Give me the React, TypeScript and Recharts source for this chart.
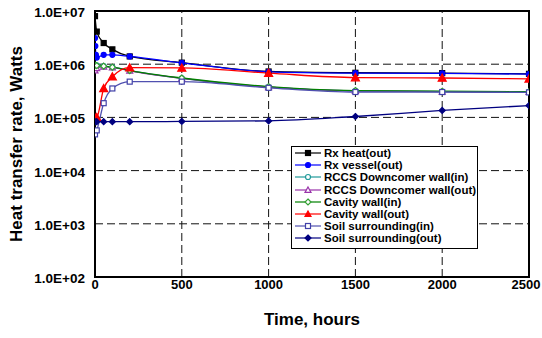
import React from "react";
import {
  LineChart,
  Line,
  XAxis,
  YAxis,
  ReferenceLine,
  ReferenceArea,
} from "recharts";

// time axis (hours)
const mainTimes = [0, 10, 50, 100, 200, 500, 1000, 1500, 2000, 2500];
const vesselTimes = [0, 2, 5, 10, 50, 100, 200, 500, 1000, 1500, 2000, 2500];
const cavityInTimes = [0, 1, 10, 50, 100, 200, 500, 1000, 1500, 2000, 2500];

// heat transfer rate (W)
const rxHeat = [8.0e6, 4.1e6, 2.5e6, 1.9e6, 1.4e6, 1.07e6, 7.3e5, 6.9e5, 6.8e5, 6.6e5];
const rxVessel = [3.1e6, 2.2e6, 1.5e6, 1.33e6, 1.5e6, 1.5e6, 1.4e6, 1.06e6, 7.2e5, 6.8e5, 6.7e5, 6.5e5];
const rccsIn = [9.6e5, 9.5e5, 9.2e5, 8.8e5, 7.6e5, 5.4e5, 3.7e5, 3.15e5, 3.05e5, 3.0e5];
const rccsOut = [7.6e5, 8.4e5, 9.0e5, 8.7e5, 7.5e5, 5.4e5, 3.7e5, 3.15e5, 3.05e5, 3.0e5];
const cavityIn = [8.3e4, 9.6e5, 9.4e5, 9.2e5, 8.8e5, 7.6e5, 5.5e5, 3.8e5, 3.2e5, 3.1e5, 3.05e5];
const cavityOut = [9.8e4, 1.0e5, 3.5e5, 5.8e5, 8.6e5, 8.5e5, 6.8e5, 5.6e5, 5.5e5, 5.3e5];
const soilIn = [4.8e4, 5.7e4, 1.85e5, 3.5e5, 4.7e5, 4.7e5, 3.6e5, 3.0e5, 3.0e5, 2.95e5];
const soilOut = [8.3e4, 8.3e4, 8.3e4, 8.3e4, 8.3e4, 8.4e4, 8.6e4, 1.04e5, 1.35e5, 1.67e5];

const xTicks = [0, 500, 1000, 1500, 2000, 2500];
const yTicks = [1e2, 1e3, 1e4, 1e5, 1e6, 1e7];
const xGrid = [500, 1000, 1500, 2000];
const yGrid = [1e3, 1e4, 1e5, 1e6];

const zip = (ts: number[], vs: number[]) => ts.map((t, i) => ({ t, v: vs[i] }));

type Shape = "square" | "circle" | "triangle" | "diamond";

interface SeriesDef {
  name: string;
  data: { t: number; v: number }[];
  line: string;
  mark: string;
  shape: Shape;
  filled: boolean;
  size: number;
}

const series: SeriesDef[] = [
  { name: "Rx heat(out)", data: zip(mainTimes, rxHeat), line: "#000000", mark: "#000000", shape: "square", filled: true, size: 5 },
  { name: "Rx vessel(out)", data: zip(vesselTimes, rxVessel), line: "#0000ff", mark: "#0000ff", shape: "circle", filled: true, size: 5 },
  { name: "RCCS Downcomer wall(in)", data: zip(mainTimes, rccsIn), line: "#209a9a", mark: "#209a9a", shape: "circle", filled: false, size: 5 },
  { name: "RCCS Downcomer wall(out)", data: zip(mainTimes, rccsOut), line: "#9933aa", mark: "#9933aa", shape: "triangle", filled: false, size: 6 },
  { name: "Cavity wall(in)", data: zip(cavityInTimes, cavityIn), line: "#008000", mark: "#33a033", shape: "diamond", filled: false, size: 6 },
  { name: "Cavity wall(out)", data: zip(mainTimes, cavityOut), line: "#ff0000", mark: "#ff0000", shape: "triangle", filled: true, size: 8 },
  { name: "Soil surrounding(in)", data: zip(mainTimes, soilIn), line: "#5050b0", mark: "#4040a8", shape: "square", filled: false, size: 5 },
  { name: "Soil surrounding(out)", data: zip(mainTimes, soilOut), line: "#000080", mark: "#000080", shape: "diamond", filled: true, size: 6 },
];

function marker(s: SeriesDef, cx: number, cy: number, key?: string) {
  const h = s.size / 2;
  const fill = s.filled ? s.mark : "#ffffff";
  const common = { key, fill, stroke: s.mark, strokeWidth: 1.2 };
  if (s.shape === "square") return <rect {...common} x={cx - h} y={cy - h} width={s.size} height={s.size} />;
  if (s.shape === "circle") return <circle {...common} cx={cx} cy={cy} r={h} />;
  if (s.shape === "triangle")
    return <polygon {...common} points={`${cx},${cy - h} ${cx + h},${cy + h * 0.8} ${cx - h},${cy + h * 0.8}`} />;
  return <polygon {...common} points={`${cx},${cy - h} ${cx + h},${cy} ${cx},${cy + h} ${cx - h},${cy}`} />;
}

const makeDot = (s: SeriesDef) => (props: any) => {
  const { cx, cy, index } = props;
  if (cx == null || cy == null) return <g key={`e-${index}`} />;
  return marker(s, cx, cy, `d-${index}`);
};

const fmtExp = (v: number) => `1.0E+${String(Math.round(Math.log10(v))).padStart(2, "0")}`;

const font = "'Liberation Sans', Arial, sans-serif";

const XTick = (props: any) => {
  const { x, y, payload } = props;
  return (
    <text x={x} y={y + 12} textAnchor="middle" fontSize={13} fontWeight="bold" fontFamily={font} fill="#000">
      {payload.value}
    </text>
  );
};

const YTick = (props: any) => {
  const { x, y, payload } = props;
  return (
    <text x={x} y={y + 6} textAnchor="end" fontSize={13.5} fontWeight="bold" fontFamily={font} fill="#000">
      {fmtExp(payload.value)}
    </text>
  );
};

function LegendBox() {
  return (
    <div
      style={{
        position: "absolute",
        left: 291,
        top: 146,
        width: 187,
        height: 103,
        boxSizing: "border-box",
        border: "1px solid #000",
        background: "#fff",
        fontFamily: font,
        fontWeight: "bold",
        fontSize: 11.5,
      }}
    >
      {series.map((s) => (
        <div key={s.name} style={{ display: "flex", alignItems: "center", height: 12.2, whiteSpace: "nowrap" }}>
          <svg width={31} height={12} style={{ flex: "none" }}>
            <line x1={3} x2={29} y1={6} y2={6} stroke={s.line} strokeWidth={1.2} />
            {marker({ ...s, size: Math.min(s.size, 6) }, 16, 6)}
          </svg>
          <span style={{ marginLeft: 1 }}>{s.name}</span>
        </div>
      ))}
    </div>
  );
}

export default function App() {
  return (
    <div style={{ position: "relative", width: 542, height: 338, background: "#fff" }}>
      <style>{`body{margin:0}`}</style>
      <LineChart width={542} height={338} margin={{ top: 11, right: 13, left: 0, bottom: 0 }}>
        <XAxis
          dataKey="t"
          type="number"
          domain={[0, 2500]}
          ticks={xTicks}
          allowDataOverflow
          height={61}
          tickLine={false}
          axisLine={{ stroke: "#000", strokeWidth: 2 }}
          tick={<XTick />}
          tickSize={0}
          tickMargin={0}
          label={{
            content: () => (
              <text x={312} y={325} textAnchor="middle" fontSize={17} fontWeight="bold" fontFamily={font} fill="#000">
                Time, hours
              </text>
            ),
          }}
        />
        <YAxis
          dataKey="v"
          scale="log"
          domain={[1e2, 1e7]}
          ticks={yTicks}
          allowDataOverflow
          width={95}
          tickLine={false}
          axisLine={{ stroke: "#000", strokeWidth: 2 }}
          tick={<YTick />}
          tickSize={0}
          tickMargin={10}
          label={{
            content: () => (
              <text
                x={15.5}
                y={150}
                transform="rotate(-90, 15.5, 144)"
                textAnchor="middle"
                fontSize={17}
                fontWeight="bold"
                fontFamily={font}
                fill="#000"
              >
                Heat transfer rate, Watts
              </text>
            ),
          }}
        />
        {yGrid.map((g) => (
          <ReferenceLine key={`y${g}`} y={g} stroke="#111" strokeDasharray="8 4" strokeWidth={1} />
        ))}
        {xGrid.map((g) => (
          <ReferenceLine key={`x${g}`} x={g} stroke="#111" strokeDasharray="8 4" strokeWidth={1} />
        ))}
        <ReferenceArea x1={0} x2={2500} y1={1e2} y2={1e7} fill="none" stroke="#000" strokeWidth={2} />
        {series.map((s) => (
          <Line
            key={s.name}
            data={s.data}
            dataKey="v"
            name={s.name}
            type="monotone"
            stroke={s.line}
            strokeWidth={1.3}
            dot={makeDot(s)}
            activeDot={false}
            isAnimationActive={false}
          />
        ))}
      </LineChart>
      <LegendBox />
    </div>
  );
}
